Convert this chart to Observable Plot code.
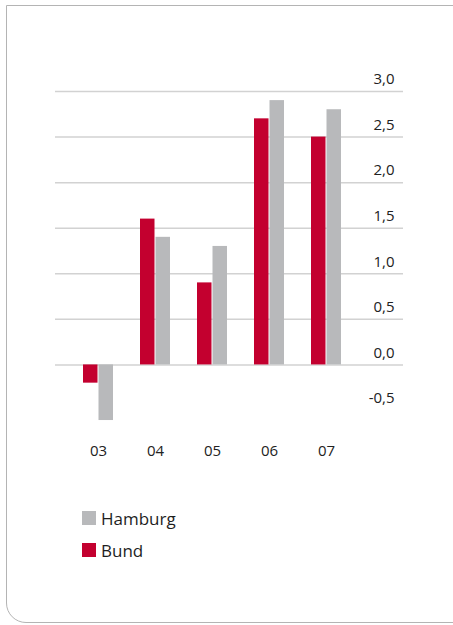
<!DOCTYPE html>
<html>
<head>
<meta charset="utf-8">
<script src="https://cdn.jsdelivr.net/npm/d3@7"></script>
<script src="https://cdn.jsdelivr.net/npm/@observablehq/plot@0.6"></script>
<style>
  html, body { margin: 0; padding: 0; background: #fff; width: 453px; height: 625px; overflow: hidden; }
  #card {
    position: absolute; left: 6px; top: 5px; width: 500px; height: 618px;
    border: 1.5px solid #b4b4b4; border-bottom-left-radius: 20px; box-sizing: border-box;
  }
  #chart { position: absolute; left: 0; top: 0; }
  #legend { position: absolute; left: 82px; top: 502px; font-family: "Open Sans", sans-serif; font-size: 17px; color: #1e1e1e; }
  .item { display: flex; align-items: center; height: 32px; }
  .sw { width: 14px; height: 14px; margin-right: 5px; }
</style>
</head>
<body>
<div id="card"></div>
<div id="chart"></div>
<div id="legend"></div>
<script>
const years = ["03", "04", "05", "06", "07"];
const bund = [-0.2, 1.6, 0.9, 2.7, 2.5];
const hamburg = [-0.61, 1.4, 1.3, 2.9, 2.8];
const yTicks = [-0.5, 0, 0.5, 1.0, 1.5, 2.0, 2.5, 3.0];
const gridTicks = [0, 0.5, 1.0, 1.5, 2.0, 2.5, 3.0];
const seriesNames = ["Hamburg", "Bund"];
const colors = { Hamburg: "#b8b9bb", Bund: "#c3002f" };

const data = years.map((y, i) => ({ year: y, Bund: bund[i], Hamburg: hamburg[i] }));
const fmt = d => d.toFixed(1).replace(".", ",");

const chart = Plot.plot({
  width: 453,
  height: 470,
  marginTop: 91,
  marginBottom: 60,
  marginLeft: 55,
  marginRight: 50,
  style: { fontFamily: "'Open Sans', sans-serif", fontSize: "15px", color: "#222", background: "transparent" },
  x: { type: "band", domain: years, paddingInner: 0.4655, paddingOuter: 0.7328, align: 0.312, label: null },
  y: { domain: [-0.5, 3.0], label: null },
  marks: [
    Plot.ruleY(gridTicks, { stroke: "#d2d2d2", strokeWidth: 1.5 }),
    Plot.barY(data, { x: "year", y: "Bund", fill: colors.Bund, insetRight: 15.5 }),
    Plot.barY(data, { x: "year", y: "Hamburg", fill: colors.Hamburg, insetLeft: 15.5 }),
    Plot.axisX({ tickSize: 0, tickPadding: 35, fontSize: 15 }),
    Plot.axisY({ anchor: "right", ticks: yTicks, tickFormat: fmt, tickSize: 0, tickPadding: 0, textAnchor: "end", dx: -9, dy: -12, fontSize: 15 })
  ]
});
document.getElementById("chart").appendChild(chart);

const legend = document.getElementById("legend");
seriesNames.forEach(n => {
  const item = document.createElement("div");
  item.className = "item";
  const sw = document.createElement("div");
  sw.className = "sw";
  sw.style.background = colors[n];
  const t = document.createElement("span");
  t.textContent = n;
  item.appendChild(sw);
  item.appendChild(t);
  legend.appendChild(item);
});
</script>
</body>
</html>
